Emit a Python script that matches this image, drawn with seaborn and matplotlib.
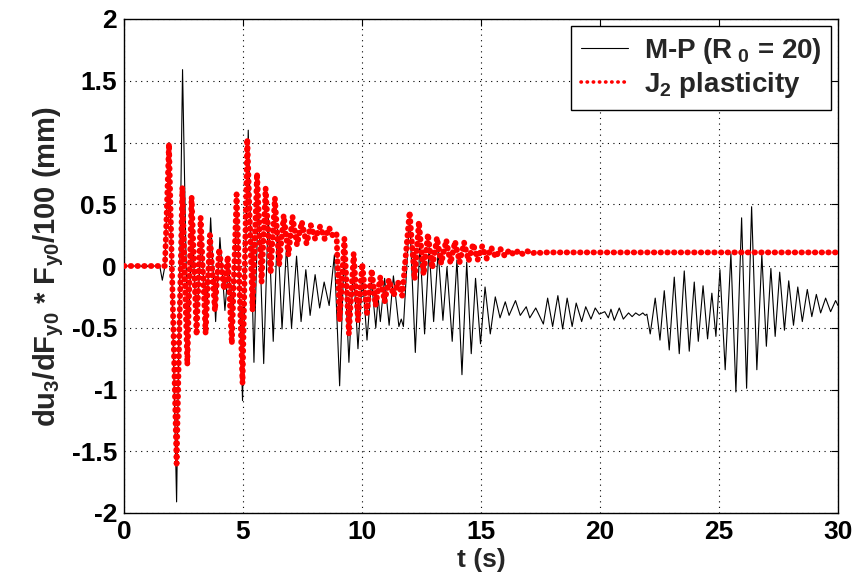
import numpy as np
import pandas as pd
import matplotlib
matplotlib.use("Agg")
import matplotlib.pyplot as plt
import seaborn as sns

# ------------ Data (extrema of each trace) ------------
mp_t = [0.0, 1.50, 1.61, 1.72, 1.89, 2.21, 2.46, 2.68, 2.86, 3.05, 3.25, 3.45, 3.64,
        3.85, 4.03, 4.24, 4.40, 4.55, 4.75, 4.98, 5.22, 5.46, 5.64, 5.87, 6.06, 6.27,
        6.45, 6.64, 6.83, 7.04, 7.25, 7.44, 7.64, 7.82, 8.03, 8.22, 8.41, 8.62, 8.84,
        9.06, 9.25, 9.45, 9.64, 9.83, 10.02, 10.21, 10.40, 10.58, 10.68, 10.77, 10.95,
        11.14, 11.32, 11.55, 11.65, 11.74, 12.00, 12.24, 12.43, 12.63, 12.82, 13.01,
        13.20, 13.40, 13.57, 13.79, 13.99, 14.20, 14.40, 14.59, 14.77, 14.98, 15.17,
        15.39, 15.60, 15.80, 16.02, 16.18, 16.45, 16.65, 16.90, 17.05, 17.30, 17.62,
        17.80, 18.01, 18.23, 18.43, 18.62, 18.83, 19.00, 19.23, 19.40, 19.62, 19.80,
        19.97, 20.20, 20.35, 20.46, 20.60, 20.81, 20.98, 21.20, 21.35, 21.50, 21.65,
        21.80, 21.90, 21.97, 22.11, 22.32, 22.52, 22.70, 22.91, 23.12, 23.33, 23.54,
        23.75, 23.96, 24.13, 24.33, 24.52, 24.70, 24.87, 25.04, 25.26, 25.50, 25.71,
        25.95, 26.16, 26.37, 26.59, 26.80, 26.99, 27.18, 27.36, 27.55, 27.75, 27.93,
        28.13, 28.31, 28.50, 28.71, 28.90, 29.09, 29.27, 29.48, 29.69, 29.90, 30.0]
mp_v = [0.0, 0.0, -0.115, 0.0, 1.00, -1.91, 1.59, -0.70, 0.35, -0.50, 0.25, -0.52, 0.39,
        -0.45, 0.23, -0.36, 0.02, -0.55, 0.55, -1.09, 1.10, -0.78, 0.55, -0.79, 0.42, -0.61,
        0.30, -0.51, 0.16, -0.50, 0.08, -0.45, -0.03, -0.40, -0.07, -0.34, -0.13, -0.32, 0.09,
        -0.97, 0.10, -0.78, 0.00, -0.67, -0.08, -0.60, -0.12, -0.50, -0.25, -0.45, -0.10,
        -0.48, -0.08, -0.49, -0.43, -0.49, 0.40, -0.70, 0.18, -0.55, 0.15, -0.45,
        0.12, -0.44, -0.01, -0.61, 0.05, -0.88, 0.03, -0.71, -0.10, -0.63, -0.17,
        -0.55, -0.25, -0.42, -0.29, -0.40, -0.28, -0.40, -0.33, -0.42, -0.34, -0.47,
        -0.26, -0.49, -0.24, -0.51, -0.26, -0.49, -0.30, -0.45, -0.33, -0.43, -0.34,
        -0.39, -0.37, -0.42, -0.35, -0.44, -0.34, -0.43, -0.38, -0.41, -0.38, -0.40,
        -0.38, -0.40, -0.39, -0.55, -0.26, -0.60, -0.20, -0.68, -0.09, -0.71, -0.04,
        -0.69, -0.13, -0.61, -0.16, -0.59, -0.22, -0.57, -0.03, -0.84, 0.10, -1.02,
        0.39, -0.99, 0.48, -0.84, 0.09, -0.65, -0.02, -0.57, -0.05, -0.52, -0.12,
        -0.48, -0.17, -0.45, -0.19, -0.41, -0.23, -0.38, -0.26, -0.37, -0.28, -0.32]

j2_t = [0.0, 1.72, 1.89, 2.21, 2.45, 2.66, 2.84, 3.05, 3.22, 3.43, 3.61, 3.82, 4.00,
        4.20, 4.36, 4.53, 4.73, 4.98, 5.18, 5.40, 5.59, 5.78, 5.95, 6.16, 6.34, 6.52,
        6.71, 6.91, 7.08, 7.27, 7.47, 7.67, 7.85, 8.03, 8.24, 8.43, 8.62, 8.78, 8.93,
        9.06, 9.26, 9.45, 9.65, 9.83, 10.01, 10.21, 10.41, 10.57, 10.77, 10.95, 11.13,
        11.33, 11.51, 11.69, 12.00, 12.21, 12.39, 12.59, 12.77, 12.95, 13.15, 13.33,
        13.54, 13.72, 13.91, 14.10, 14.29, 14.48, 14.67, 14.86, 15.05, 15.24, 15.43,
        15.62, 15.81, 16.00, 16.19, 16.38, 16.57, 16.76, 16.95, 17.14, 17.33, 17.52,
        17.71, 30.0]
j2_v = [0.0, 0.0, 0.99, -1.60, 0.64, -0.80, 0.56, -0.56, 0.39, -0.55, 0.25, -0.36, 0.14,
        -0.19, 0.08, -0.63, 0.58, -0.95, 1.03, -0.36, 0.75, -0.13, 0.63, -0.06, 0.55, 0.01,
        0.41, 0.09, 0.40, 0.17, 0.36, 0.18, 0.33, 0.22, 0.32, 0.22, 0.31, 0.24, 0.26,
        -0.44, 0.22, -0.55, 0.10, -0.44, 0.02, -0.38, -0.03, -0.32, -0.09, -0.29, -0.11,
        -0.24, -0.13, -0.24, 0.44, -0.11, 0.36, -0.07, 0.26, -0.02, 0.23, 0.02,
        0.21, 0.02, 0.20, 0.03, 0.19, 0.04, 0.18, 0.05, 0.16, 0.06, 0.15,
        0.07, 0.14, 0.08, 0.13, 0.09, 0.125, 0.095, 0.12, 0.10, 0.115, 0.105,
        0.11, 0.11]

x_ticks = [0, 5, 10, 15, 20, 25, 30]
y_ticks = [-2, -1.5, -1, -0.5, 0, 0.5, 1, 1.5, 2]
y_tick_labels = ["-2", "-1.5", "-1", "-0.5", "0", "0.5", "1", "1.5", "2"]

# ------------ Plot ------------
sns.set_style("white")
plt.rcParams["font.family"] = ["Liberation Sans", "DejaVu Sans"]
plt.rcParams["font.weight"] = "bold"
plt.rcParams["axes.labelweight"] = "bold"
plt.rcParams["mathtext.fontset"] = "custom"
plt.rcParams["mathtext.rm"] = "Liberation Sans:bold"
plt.rcParams["mathtext.it"] = "Liberation Sans:bold"
plt.rcParams["mathtext.default"] = "rm"

fig = plt.figure(figsize=(8.58, 5.85), dpi=100)
ax = fig.add_axes([124 / 858, 1 - 513 / 585, (838 - 124) / 858, (513 - 19) / 585])

mp = pd.DataFrame({"t": mp_t, "v": mp_v})
j2 = pd.DataFrame({"t": j2_t, "v": j2_v})

sns.lineplot(data=mp, x="t", y="v", ax=ax, color="black", linewidth=0.8,
             estimator=None, sort=False, label=r"M-P (R$_{\ 0}$ = 20)", zorder=2)
sns.lineplot(data=j2, x="t", y="v", ax=ax, color="red", linewidth=4.2,
             estimator=None, sort=False, label=r"J$_2$ plasticity", zorder=3)
red_line = ax.get_lines()[1]
red_line.set_dashes((0.1, 1.05))
red_line.set_dash_capstyle("round")

ax.set_xlim(0, 30)
ax.set_ylim(-2, 2)
ax.set_xticks(x_ticks)
ax.set_yticks(y_ticks)
ax.set_yticklabels(y_tick_labels)
ax.tick_params(direction="in", length=5, width=0.8, top=True, right=True,
               labelsize=19, pad=5, colors="black")
ax.grid(True, color="black", linestyle=(0, (1, 4)), linewidth=0.8)
for sp in ax.spines.values():
    sp.set_color("black")
    sp.set_linewidth(1.0)

ax.set_xlabel("t (s)", fontsize=19, labelpad=3)
ax.set_ylabel(r"du$_3$/dF$_{y0}$ * F$_{y0}$/100 (mm)", fontsize=21, labelpad=4)

leg = ax.legend(loc="upper right", fontsize=20, frameon=True, fancybox=False,
                edgecolor="black", framealpha=1, handlelength=1.7,
                borderaxespad=0.25, borderpad=0.35, labelspacing=0.15,
                handletextpad=0.55)
leg.get_frame().set_linewidth(1.0)
leg.get_lines()[1].set_linewidth(2.6)
leg.get_lines()[1].set_dashes((0.1, 1.6))
leg.get_lines()[1].set_dash_capstyle("round")

fig.savefig("out.png", dpi=100)
